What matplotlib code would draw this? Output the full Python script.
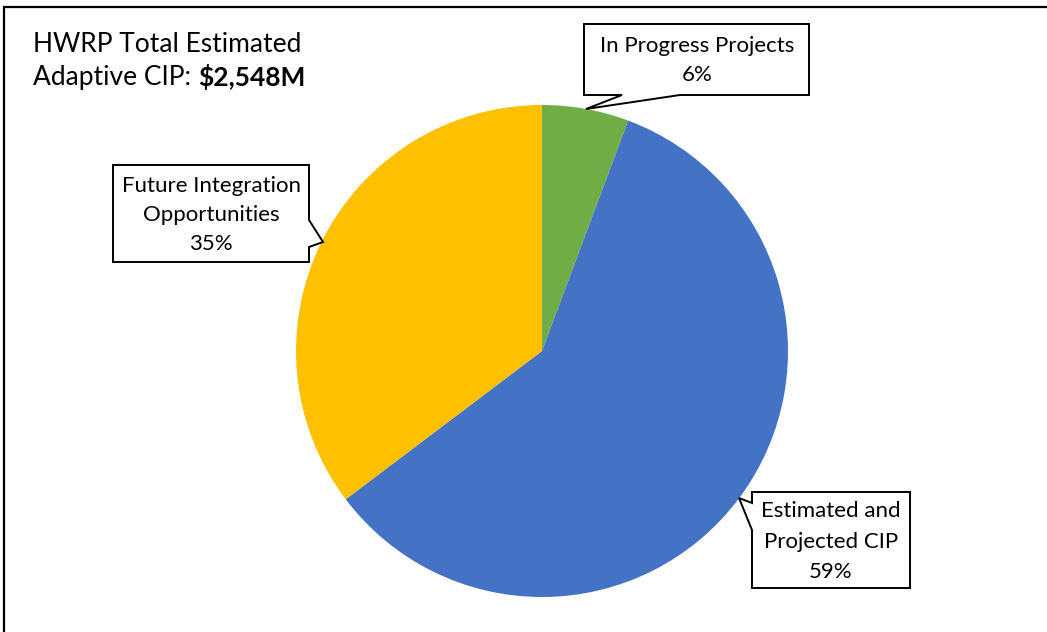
import matplotlib
matplotlib.use("Agg")
import matplotlib.pyplot as plt
from matplotlib.patches import Polygon

plt.rcParams['font.family'] = ['Lato', 'DejaVu Sans']

# Data (shares; labels show rounded percentages)
categories = ["In Progress Projects", "Estimated and Projected CIP", "Future Integration Opportunities"]
shares = [5.7, 59.0, 35.3]
colors = ["#70AD47", "#4472C4", "#FFC000"]
title_line1 = "HWRP Total Estimated"
title_line2 = "Adaptive CIP: "
title_total = "$2,548M"

W, H = 1047, 632
fig = plt.figure(figsize=(W / 100, H / 100), dpi=100)
ax = fig.add_axes([0, 0, 1, 1])

def Y(y):
    return H - y

# Pie
ax.pie(shares, colors=colors, startangle=90, counterclock=False,
       center=(542, Y(351)), radius=246, frame=True,
       wedgeprops=dict(linewidth=0))
ax.set_xlim(0, W)
ax.set_ylim(0, H)
ax.set_aspect('equal')
ax.axis('off')

# Outer frame (top and left visible)
ax.plot([4, 4, W + 10], [Y(H + 10), Y(7), Y(7)], color='black', lw=1.6,
        solid_joinstyle='miter')

# Title
t = ax.text(33, Y(45), title_line1, fontsize=19, va='center', ha='left')
t2 = ax.text(33, Y(77), title_line2, fontsize=19, va='center', ha='left')
ax.annotate(title_total, xy=(1, 0), xycoords=t2, va='bottom', ha='left',
            fontsize=19, fontweight='bold')

def callout(pts, lines, cx, ys, fs=16):
    poly = Polygon([(x, Y(y)) for x, y in pts], closed=True, facecolor='white',
                   edgecolor='black', lw=1.4, joinstyle='miter', zorder=5)
    ax.add_patch(poly)
    for s, yy in zip(lines, ys):
        ax.text(cx, Y(yy), s, fontsize=fs, ha='center', va='center', zorder=6)

pct = [f"{round(v)}%" for v in shares]

# In Progress callout (pointer from bottom edge)
callout([(584, 24), (809, 24), (809, 95), (680, 95), (586, 109), (622, 95), (584, 95)],
        [categories[0], pct[0]], 697, [46, 75])

# Future integration callout (pointer from right edge)
callout([(113, 165), (309, 165), (309, 220), (323, 242), (309, 247), (309, 262), (113, 262)],
        ["Future Integration", "Opportunities", pct[2]], 211, [186, 215, 244])

# Estimated callout (pointer from left edge)
callout([(752, 492), (910, 492), (910, 588), (752, 588), (752, 530), (739, 498), (752, 503)],
        ["Estimated and", "Projected CIP", pct[1]], 831, [511, 542, 572])

fig.savefig("out.png", dpi=100)
